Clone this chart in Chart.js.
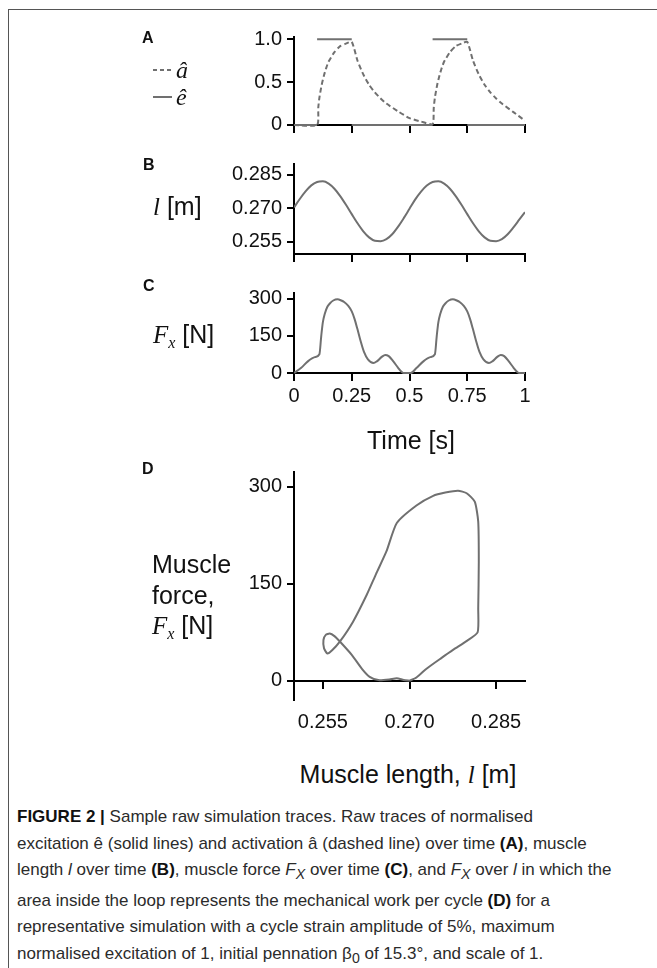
<!DOCTYPE html>
<html>
<head>
<meta charset="utf-8">
<script src="https://cdn.jsdelivr.net/npm/chart.js@4.4.1/dist/chart.umd.min.js"></script>
<style>
  body { margin: 0; background: #fff; }
  #page { position: relative; width: 657px; height: 968px; overflow: hidden; font-family: "Liberation Sans", Arial, sans-serif; color: #111; }
  #frame { position: absolute; left: 8px; top: 9px; width: 700px; height: 1000px; border: 1px solid #555; }
  canvas { position: absolute; left: 0; }
  .txt { position: absolute; line-height: 1; white-space: nowrap; }
  .panel { font-weight: bold; font-size: 16px; }
  .ttl { font-size: 25px; }
  .sym { font-family: "Liberation Serif", serif; font-style: italic; }
  .sub { font-size: 16px; position: relative; top: 5px; }
  .key { position: absolute; left: 153px; width: 19px; height: 2px; }
  #caption { position: absolute; left: 17px; top: 804px; font-size: 17px; line-height: 26.5px; color: #2b2b2b; white-space: nowrap; }
  #caption b { color: #111; }
</style>
</head>
<body>
<div id="page">
  <div id="frame"></div>

  <canvas id="chartA" width="657" height="150" style="top:0px"></canvas>
  <canvas id="chartB" width="657" height="142" style="top:140px"></canvas>
  <canvas id="chartC" width="657" height="145" style="top:270px"></canvas>
  <canvas id="chartD" width="657" height="310" style="top:440px"></canvas>

  <div class="txt panel" style="left:142px; top:30px">A</div>
  <div class="txt panel" style="left:143px; top:157px">B</div>
  <div class="txt panel" style="left:143px; top:278px">C</div>
  <div class="txt panel" style="left:142px; top:460.5px">D</div>

  <!-- legend for panel A -->
  <div class="key" style="top:69px; background: repeating-linear-gradient(to right, #707070 0 4px, transparent 4px 7px)"></div>
  <div class="txt sym" style="left:176px; top:58px; font-size:24px">â</div>
  <div class="key" style="top:96px; background:#707070"></div>
  <div class="txt sym" style="left:176px; top:85px; font-size:24px">ê</div>

  <div class="txt ttl" style="left:153px; top:194px"><span class="sym">l</span> [m]</div>
  <div class="txt ttl" style="left:153px; top:322px"><span class="sym">F</span><span class="sym sub">x</span> [N]</div>
  <div class="txt ttl" style="left:311px; width:200px; text-align:center; top:428px">Time [s]</div>
  <div class="txt ttl" style="left:152px; top:549px; line-height:30.5px">Muscle<br>force,<br><span class="sym">F</span><span class="sym sub">x</span> [N]</div>
  <div class="txt ttl" style="left:258px; width:300px; text-align:center; top:762px">Muscle length, <span class="sym">l</span> [m]</div>

  <div id="caption">
    <div><b>FIGURE 2 |</b> Sample raw simulation traces. Raw traces of normalised</div>
    <div>excitation ê (solid lines) and activation â (dashed line) over time <b>(A)</b>, muscle</div>
    <div>length <i>l</i> over time <b>(B)</b>, muscle force <i>F<sub>X</sub></i> over time <b>(C)</b>, and <i>F<sub>X</sub></i> over <i>l</i> in which the</div>
    <div>area inside the loop represents the mechanical work per cycle <b>(D)</b> for a</div>
    <div>representative simulation with a cycle strain amplitude of 5%, maximum</div>
    <div>normalised excitation of 1, initial pennation β<sub>0</sub> of 15.3°, and scale of 1.</div>
  </div>
</div>

<script>
// A: excitation (step) and activation over time
const timeExc = [0, 0.1, 0.1, 0.25, 0.25, 0.6, 0.6, 0.75, 0.75, 1]
const excitation = [0, 0, 1, 1, 0, 0, 1, 1, 0, 0]

const timeAct = [0, 0.1, 0.105, 0.11, 0.12, 0.13, 0.14, 0.15, 0.175, 0.2, 0.225, 0.25,
  0.275, 0.3, 0.325, 0.35, 0.375, 0.4, 0.45, 0.5, 0.55, 0.6,
  0.605, 0.61, 0.62, 0.63, 0.64, 0.65, 0.675, 0.7, 0.725, 0.75,
  0.775, 0.8, 0.825, 0.85, 0.875, 0.9, 0.95, 1]
const activation = [0, 0, 0.2, 0.32, 0.47, 0.58, 0.67, 0.74, 0.85, 0.92, 0.95, 0.97,
  0.75, 0.59, 0.47, 0.38, 0.31, 0.25, 0.16, 0.08, 0.04, 0.01,
  0.2, 0.32, 0.47, 0.58, 0.67, 0.74, 0.85, 0.92, 0.95, 0.97,
  0.75, 0.59, 0.47, 0.38, 0.31, 0.25, 0.15, 0.05]

// B: muscle length over time
const timeLen = [0, 0.025, 0.05, 0.075, 0.1, 0.125, 0.15, 0.175, 0.2, 0.225,
  0.25, 0.275, 0.3, 0.325, 0.35, 0.375, 0.4, 0.425, 0.45, 0.475,
  0.5, 0.525, 0.55, 0.575, 0.6, 0.625, 0.65, 0.675, 0.7, 0.725,
  0.75, 0.775, 0.8, 0.825, 0.85, 0.875, 0.9, 0.925, 0.95, 0.975, 1]
const muscleLength = [0.2703, 0.2741, 0.2775, 0.2802, 0.2817, 0.2820, 0.2810, 0.2787, 0.2754, 0.2715,
  0.2673, 0.2632, 0.2596, 0.2569, 0.2554, 0.2552, 0.2561, 0.2583, 0.2616, 0.2655,
  0.2697, 0.2739, 0.2774, 0.2801, 0.2817, 0.2820, 0.2810, 0.2787, 0.2754, 0.2715,
  0.2673, 0.2632, 0.2596, 0.2569, 0.2554, 0.2552, 0.2561, 0.2583, 0.2614, 0.2648, 0.2682]

// C: muscle force over time
const timeForce = [0, 0.03, 0.06, 0.09, 0.11, 0.118, 0.125, 0.133, 0.145, 0.155,
  0.17, 0.188, 0.205, 0.217, 0.235, 0.25, 0.262, 0.274, 0.288, 0.303,
  0.32, 0.344, 0.36, 0.38, 0.395, 0.41, 0.43, 0.45, 0.468, 0.475,
  0.505, 0.53, 0.56, 0.59, 0.61, 0.618, 0.625, 0.633, 0.645, 0.655,
  0.67, 0.688, 0.705, 0.717, 0.735, 0.75, 0.762, 0.774, 0.788, 0.803,
  0.82, 0.844, 0.86, 0.88, 0.895, 0.91, 0.93, 0.95, 0.968, 0.975, 1]
const muscleForce = [0, 20, 47, 64, 76, 150, 205, 238, 268, 280,
  292, 297, 292, 286, 270, 248, 218, 179, 130, 85,
  55, 40, 48, 65, 73, 68, 47, 22, 3, 0,
  0, 20, 47, 64, 76, 150, 205, 238, 268, 280,
  292, 297, 292, 286, 270, 248, 218, 179, 130, 85,
  55, 40, 48, 65, 73, 68, 47, 22, 3, 0, 0]

// D: work loop, force against length
const loopLength = [0.2700, 0.2712, 0.2730, 0.2755, 0.2776, 0.2800, 0.2818, 0.2819, 0.2820, 0.2819,
  0.2813, 0.2799, 0.2784, 0.2762, 0.2741, 0.2712, 0.2678, 0.2660, 0.2642, 0.2626,
  0.2602, 0.2579, 0.2566, 0.2558, 0.2552, 0.2551, 0.2555, 0.2562, 0.2570, 0.2579,
  0.2600, 0.2618, 0.2631, 0.2646, 0.2665, 0.2678, 0.2690, 0.2700]
const loopForce = [0, 5, 19, 35, 48, 62, 75, 112, 184, 246,
  277, 290, 294, 291, 286, 271, 244, 200, 165, 133,
  91, 60, 47, 42, 50, 63, 71, 73, 69, 61,
  40, 18, 6, 1, 2, 4, 1, 0]

const timeTicks = [0, 0.25, 0.5, 0.75, 1]
const actTicks = [0, 0.5, 1]
const lenTicks = [0.255, 0.27, 0.285]
const forceTicks = [0, 150, 300]
const loopLenTicks = [0.255, 0.27, 0.285]

const GRAY = '#707070'
const tickFont = { family: '"Liberation Sans", Arial, sans-serif', size: 20 }

const pts = (xs, ys) => xs.map((x, i) => ({ x: x, y: ys[i] }))

function yAxis(min, max, values, fmt) {
  return {
    type: 'linear', min: min, max: max,
    afterBuildTicks: s => { s.ticks = values.map(v => ({ value: v })) },
    afterFit: s => { s.width = 294 },
    grid: { drawOnChartArea: false, tickLength: 7, lineWidth: 2, color: '#000' },
    border: { color: '#000', width: 2 },
    ticks: { font: tickFont, color: '#111', padding: 5, callback: fmt }
  }
}

function xAxis(min, max, values, atY, showLabels, pad, fmt) {
  return {
    type: 'linear', min: min, max: max, position: { y: atY },
    afterBuildTicks: s => { s.ticks = values.map(v => ({ value: v })) },
    grid: { drawOnChartArea: false, tickLength: 7, lineWidth: 2, color: '#000' },
    border: { color: '#000', width: 2 },
    ticks: { display: showLabels, font: tickFont, color: '#111', padding: pad, maxRotation: 0, autoSkip: false, callback: fmt }
  }
}

function makeChart(id, datasets, xScale, yScale, padding) {
  return new Chart(document.getElementById(id), {
    type: 'line',
    data: { datasets: datasets },
    options: {
      responsive: false,
      animation: false,
      devicePixelRatio: 1,
      layout: { padding: padding },
      elements: { point: { radius: 0 } },
      plugins: { legend: { display: false }, tooltip: { enabled: false } },
      scales: { x: xScale, y: yScale }
    }
  })
}

const plain = v => String(v)

makeChart('chartA', [
  {
    data: pts(timeExc, excitation), borderColor: GRAY, borderWidth: 2, tension: 0,
    // the step is drawn as separate bars, no vertical risers
    segment: { borderColor: c => c.p0.parsed.x === c.p1.parsed.x ? 'rgba(0,0,0,0)' : GRAY }
  },
  { data: pts(timeAct, activation), borderColor: GRAY, borderWidth: 2, borderDash: [5, 3], tension: 0.2 }
],
  xAxis(0, 1, timeTicks, 0, false, 0, plain),
  yAxis(-0.082, 1.027, actTicks, v => v === 0 ? '0' : v.toFixed(1)),
  { top: 37, bottom: 18, left: 0, right: 132 })

makeChart('chartB', [
  { data: pts(timeLen, muscleLength), borderColor: GRAY, borderWidth: 2, cubicInterpolationMode: 'monotone' }
],
  xAxis(0, 1, timeTicks, 0.2493, false, 0, plain),
  yAxis(0.2463, 0.29, lenTicks, v => v.toFixed(3)),
  { top: 23.5, bottom: 21, left: 0, right: 132 })

makeChart('chartC', [
  { data: pts(timeForce, muscleForce), borderColor: GRAY, borderWidth: 2, cubicInterpolationMode: 'monotone' }
],
  xAxis(0, 1, timeTicks, 0, true, 4, plain),
  yAxis(-28, 321, forceTicks, plain),
  { top: 23.3, bottom: 35, left: 0, right: 132 })

makeChart('chartD', [
  { data: pts(loopLength, loopForce), borderColor: GRAY, borderWidth: 2, tension: 0.2 }
],
  xAxis(0.25, 0.29, loopLenTicks, 0, true, 23, v => v.toFixed(3)),
  yAxis(-29.8, 323.3, forceTicks, plain),
  { top: 31.7, bottom: 50, left: 0, right: 132 })
</script>
</body>
</html>
